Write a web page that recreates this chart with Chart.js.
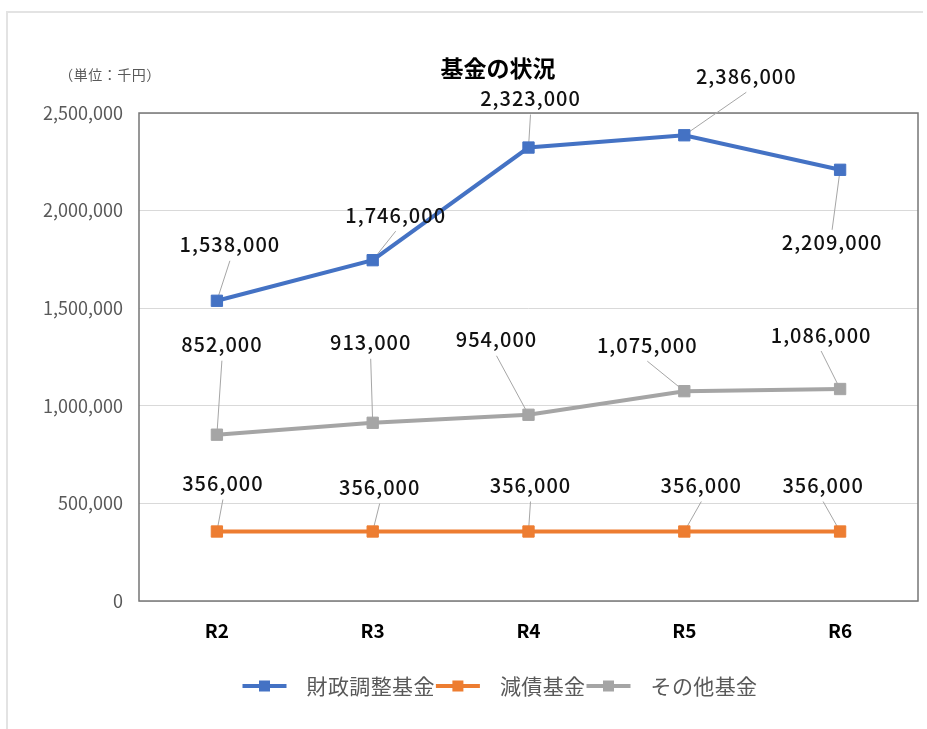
<!DOCTYPE html>
<html lang="ja">
<head>
<meta charset="utf-8">
<title>基金の状況</title>
<script src="https://cdn.jsdelivr.net/npm/chart.js@4/dist/chart.umd.min.js"></script>
<style>
  html, body { margin: 0; padding: 0; background: #fff; }
  #wrap { position: relative; width: 927px; height: 729px; }
</style>
</head>
<body>
<div id="wrap"><canvas id="chart" width="927" height="729"></canvas></div>
<script>
// data
const categories = ['R2', 'R3', 'R4', 'R5', 'R6'];
const zaiseiChosei = [1538000, 1746000, 2323000, 2386000, 2209000];
const gensai = [356000, 356000, 356000, 356000, 356000];
const sonota = [852000, 913000, 954000, 1075000, 1086000];
const yMin = 0;
const yMax = 2500000;
const yStep = 500000;

const FONT = '"Noto Sans CJK JP", "Noto Sans", sans-serif';
const fmt = v => Number(v).toLocaleString('en-US');

// label placement relative to each point (excel style, leader lines)
const blueLabelOffsets = [[13, -56], [23, -45], [2, -49], [62, -59], [-8, 73]];
const orangeLabelOffsets = [[6, -48], [7, -44], [2, -46], [17, -46], [-17, -46]];
const grayLabelOffsets = [[5, -90], [-2, -80], [-32, -75], [-37, -46], [-19, -54]];

const series = (label, data, color, labelOffsets) => ({
    label, data,
    borderColor: color, backgroundColor: color,
    borderWidth: 4,
    pointStyle: 'rect', pointRadius: 8, pointHoverRadius: 8,
    pointBorderWidth: 1, pointBorderColor: color, pointBackgroundColor: color,
    tension: 0, labelOffsets
});

const bgPlugin = {
    id: 'bg',
    beforeDraw(chart) {
        const ctx = chart.ctx;
        ctx.save();
        ctx.fillStyle = '#fff';
        ctx.fillRect(0, 0, chart.width, chart.height);
        ctx.strokeStyle = '#e3e3e3';
        ctx.lineWidth = 2;
        ctx.beginPath();
        ctx.moveTo(7, chart.height);
        ctx.lineTo(7, 12);
        ctx.lineTo(chart.width - 4, 12);
        ctx.stroke();
        // title + unit
        ctx.fillStyle = '#000';
        ctx.font = 'bold 23px ' + FONT;
        ctx.textAlign = 'center';
        ctx.textBaseline = 'middle';
        ctx.fillText('基金の状況', 498, 68);
        ctx.fillStyle = '#595959';
        ctx.font = '14px ' + FONT;
        ctx.letterSpacing = '0.5px';
        ctx.fillText('（単位：千円）', 110, 75);
        ctx.restore();
    },
    beforeDatasetsDraw(chart) {
        const ctx = chart.ctx;
        const a = chart.chartArea;
        ctx.save();
        ctx.strokeStyle = '#767676';
        ctx.lineWidth = 1.5;
        ctx.strokeRect(a.left, a.top, a.right - a.left, a.bottom - a.top);
        // leader lines under markers
        ctx.strokeStyle = '#a6a6a6';
        ctx.lineWidth = 1;
        chart.data.datasets.forEach((ds, i) => {
            chart.getDatasetMeta(i).data.forEach((pt, j) => {
                const [dx, dy] = ds.labelOffsets[j];
                const ex = pt.x + dx;
                const ey = dy < 0 ? pt.y + dy + 16 : pt.y + dy - 13;
                ctx.beginPath();
                ctx.moveTo(pt.x, pt.y);
                ctx.lineTo(ex, ey);
                ctx.stroke();
            });
        });
        ctx.restore();
    },
    afterDatasetsDraw(chart) {
        const ctx = chart.ctx;
        ctx.save();
        ctx.font = '500 20px ' + FONT;
        ctx.letterSpacing = '1px';
        ctx.fillStyle = '#111';
        ctx.textAlign = 'center';
        ctx.textBaseline = 'middle';
        chart.data.datasets.forEach((ds, i) => {
            chart.getDatasetMeta(i).data.forEach((pt, j) => {
                const [dx, dy] = ds.labelOffsets[j];
                ctx.fillText(fmt(ds.data[j]), pt.x + dx, pt.y + dy);
            });
        });
        // legend
        ctx.font = '21px ' + FONT;
        ctx.letterSpacing = '0.4px';
        ctx.textAlign = 'left';
        const ly = 686;
        const gap = 1;
        const items = chart.data.datasets.map(ds => ({ ds, w: 64 + ctx.measureText(ds.label).width }));
        const total = items.reduce((s, it) => s + it.w, 0) + gap * (items.length - 1);
        let x = 500 - total / 2;
        items.forEach(({ ds, w }) => {
            ctx.strokeStyle = ds.borderColor;
            ctx.lineWidth = 4;
            ctx.beginPath();
            ctx.moveTo(x, ly);
            ctx.lineTo(x + 44, ly);
            ctx.stroke();
            ctx.fillStyle = ds.borderColor;
            ctx.fillRect(x + 22 - 5.5, ly - 5.5, 11, 11);
            ctx.fillStyle = '#595959';
            ctx.fillText(ds.label, x + 64, ly);
            x += w + gap;
        });
        ctx.restore();
    }
};

new Chart(document.getElementById('chart'), {
    type: 'line',
    data: {
        labels: categories,
        datasets: [
            series('財政調整基金', zaiseiChosei, '#4472C4', blueLabelOffsets),
            series('減債基金', gensai, '#ED7D31', orangeLabelOffsets),
            series('その他基金', sonota, '#A5A5A5', grayLabelOffsets)
        ]
    },
    options: {
        responsive: false,
        animation: false,
        layout: { padding: { top: 113, right: 9, bottom: 0, left: 0 } },
        plugins: { legend: { display: false }, title: { display: false }, tooltip: { enabled: false } },
        scales: {
            x: {
                offset: true,
                grid: { display: false, drawTicks: false },
                border: { display: false },
                ticks: { color: '#000', padding: 18, font: { family: FONT, size: 19, weight: 'bold' } },
                afterFit: s => { s.height = 128; }
            },
            y: {
                min: yMin, max: yMax,
                grid: { color: '#d9d9d9', lineWidth: 1, drawTicks: false },
                border: { display: false },
                ticks: { stepSize: yStep, color: '#595959', padding: 16, font: { family: FONT, size: 18 }, callback: v => fmt(v) },
                afterFit: s => { s.width = 139; }
            }
        }
    },
    plugins: [bgPlugin]
});
</script>
</body>
</html>
